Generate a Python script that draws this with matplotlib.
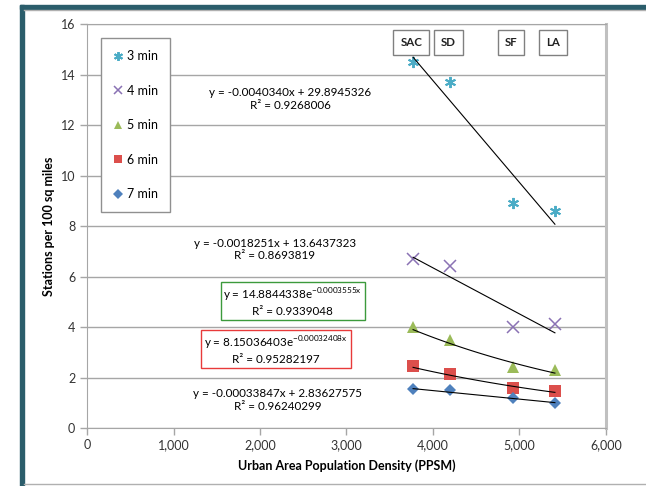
import numpy as np
import matplotlib.pyplot as plt
from matplotlib.lines import Line2D
from matplotlib.patches import Rectangle

plt.rcParams['font.family'] = ['Lato', 'DejaVu Sans']

# urban area density (PPSM) for SAC, SD, SF, LA
cities = ["SAC", "SD", "SF", "LA"]
density = [3770, 4200, 4920, 5410]

labels = ["3 min", "4 min", "5 min", "6 min", "7 min"]
stations = {
    "3 min": [14.5, 13.7, 8.9, 8.6],
    "4 min": [6.7, 6.4, 4.0, 4.1],
    "5 min": [4.0, 3.5, 2.4, 2.3],
    "6 min": [2.45, 2.15, 1.6, 1.45],
    "7 min": [1.55, 1.5, 1.2, 1.0],
}

# trendline coefficients as printed on the chart
lin_fits = {"3 min": (-0.0040340, 29.8945326), "4 min": (-0.0018251, 13.6437323),
            "7 min": (-0.00033847, 2.83627575)}
exp_fits = {"5 min": (14.8844338, -0.0003555), "6 min": (8.15036403, -0.00032408)}
r2 = {"3 min": "0.9268006", "4 min": "0.8693819", "5 min": "0.9339048",
      "6 min": "0.95282197", "7 min": "0.96240299"}

styles = {
    "3 min": dict(marker=(6, 2, 0), color="#4bacc6", ms=8, mew=1.4),
    "4 min": dict(marker="x", color="#8a72b4", ms=8, mew=1.1),
    "5 min": dict(marker="^", color="#9bbb59", ms=8, mew=0),
    "6 min": dict(marker="s", color="#dc4f4c", ms=8, mew=0),
    "7 min": dict(marker="D", color="#4f81bd", ms=6.5, mew=0),
}

fig = plt.figure(figsize=(6.46, 4.86), dpi=100)
ax = fig.add_axes([0.1347, 0.1193, 0.8033, 0.8313])

# outer frame: teal bars top/left, grey lines
fig.patches.append(Rectangle((20 / 646, 0.0), 4 / 646, 1 - 5 / 486, transform=fig.transFigure,
                             color="#2b5d6b", zorder=0))
fig.patches.append(Rectangle((20 / 646, 1 - 9 / 486), 1, 4 / 486, transform=fig.transFigure,
                             color="#2b5d6b", zorder=0))
fig.lines.append(Line2D([24 / 646, 1], [1 - 10 / 486] * 2, transform=fig.transFigure, color="#b0b0b0", lw=1))
fig.lines.append(Line2D([24 / 646, 1], [2 / 486] * 2, transform=fig.transFigure, color="#b0b0b0", lw=1))

xs = np.linspace(density[0], density[-1], 100)
for lab in labels:
    st = styles[lab]
    ax.plot(density, stations[lab], ls="none", marker=st["marker"], color=st["color"],
            ms=st["ms"], mew=st["mew"], mec=st["color"], zorder=3)
    if lab in lin_fits:
        m, b = lin_fits[lab]
        ax.plot(xs, m * xs + b, color="black", lw=0.8, zorder=4)
    else:
        a, k = exp_fits[lab]
        ax.plot(xs, a * np.exp(k * xs), color="black", lw=0.8, zorder=4)

fs = 8.4
ax.text(2347, 13.03, "y = -0.0040340x + 29.8945326\nR² = " + r2["3 min"], ha="center", va="center",
        fontsize=fs, linespacing=1.15)
ax.text(2173, 7.07, "y = -0.0018251x + 13.6437323\nR² = " + r2["4 min"], ha="center", va="center",
        fontsize=fs, linespacing=1.15)
ax.text(2380, 4.99, "y = 14.8844338e$^{\\mathregular{-0.0003555x}}$\nR² = " + r2["5 min"], ha="center",
        va="center", fontsize=fs, linespacing=1.15,
        bbox=dict(boxstyle="square,pad=0.25", fc="white", ec="#3c9a3c", lw=1))
ax.text(2185, 3.09, "y = 8.15036403e$^{\\mathregular{-0.00032408x}}$\nR² = " + r2["6 min"], ha="center",
        va="center", fontsize=fs, linespacing=1.15,
        bbox=dict(boxstyle="square,pad=0.25", fc="white", ec="#e83a3a", lw=1))
ax.text(2208, 1.11, "y = -0.00033847x + 2.83627575\nR² = " + r2["7 min"], ha="center", va="center",
        fontsize=fs, linespacing=1.15)

for c, d in zip(cities, density):
    ax.text(d - 20, 15.28, c, ha="center", va="center", fontsize=8.3, fontweight="bold", color="#222222",
            bbox=dict(boxstyle="square,pad=0.6", fc="white", ec="#808080", lw=1))

ax.set_xlim(0, 6000)
ax.set_ylim(0, 16)
ax.set_xticks(range(0, 6001, 1000))
ax.set_xticklabels([f"{v:,}" for v in range(0, 6001, 1000)])
ax.set_yticks(range(0, 17, 2))
ax.yaxis.grid(True, color="#a6a6a6", lw=1)
ax.set_axisbelow(True)
for s in ax.spines.values():
    s.set_color("#a6a6a6")
ax.spines["right"].set_linewidth(2.2)
ax.spines["right"].set_color("#c0c0c0")
ax.tick_params(colors="#a6a6a6", labelcolor="#333333", labelsize=9, length=5, width=1)
ax.tick_params(axis="x", pad=3)

ax.set_xlabel("Urban Area Population Density (PPSM)", fontsize=9, fontweight="bold", labelpad=6)
ax.set_ylabel("Stations per 100 sq miles", fontsize=9, fontweight="bold", labelpad=4)

handles = [Line2D([], [], ls="none", marker=styles[l]["marker"], color=styles[l]["color"],
                  ms=styles[l]["ms"] * 0.8, mew=styles[l]["mew"]) for l in labels]
leg = ax.legend(handles, labels, loc="upper left", bbox_to_anchor=(0.015, 0.98), fontsize=9,
                labelspacing=1.8, borderpad=0.95, handlelength=0.8, handletextpad=0.3,
                fancybox=False, edgecolor="#909090", framealpha=1)
leg.get_frame().set_linewidth(1)

fig.savefig("out.png", dpi=100)
